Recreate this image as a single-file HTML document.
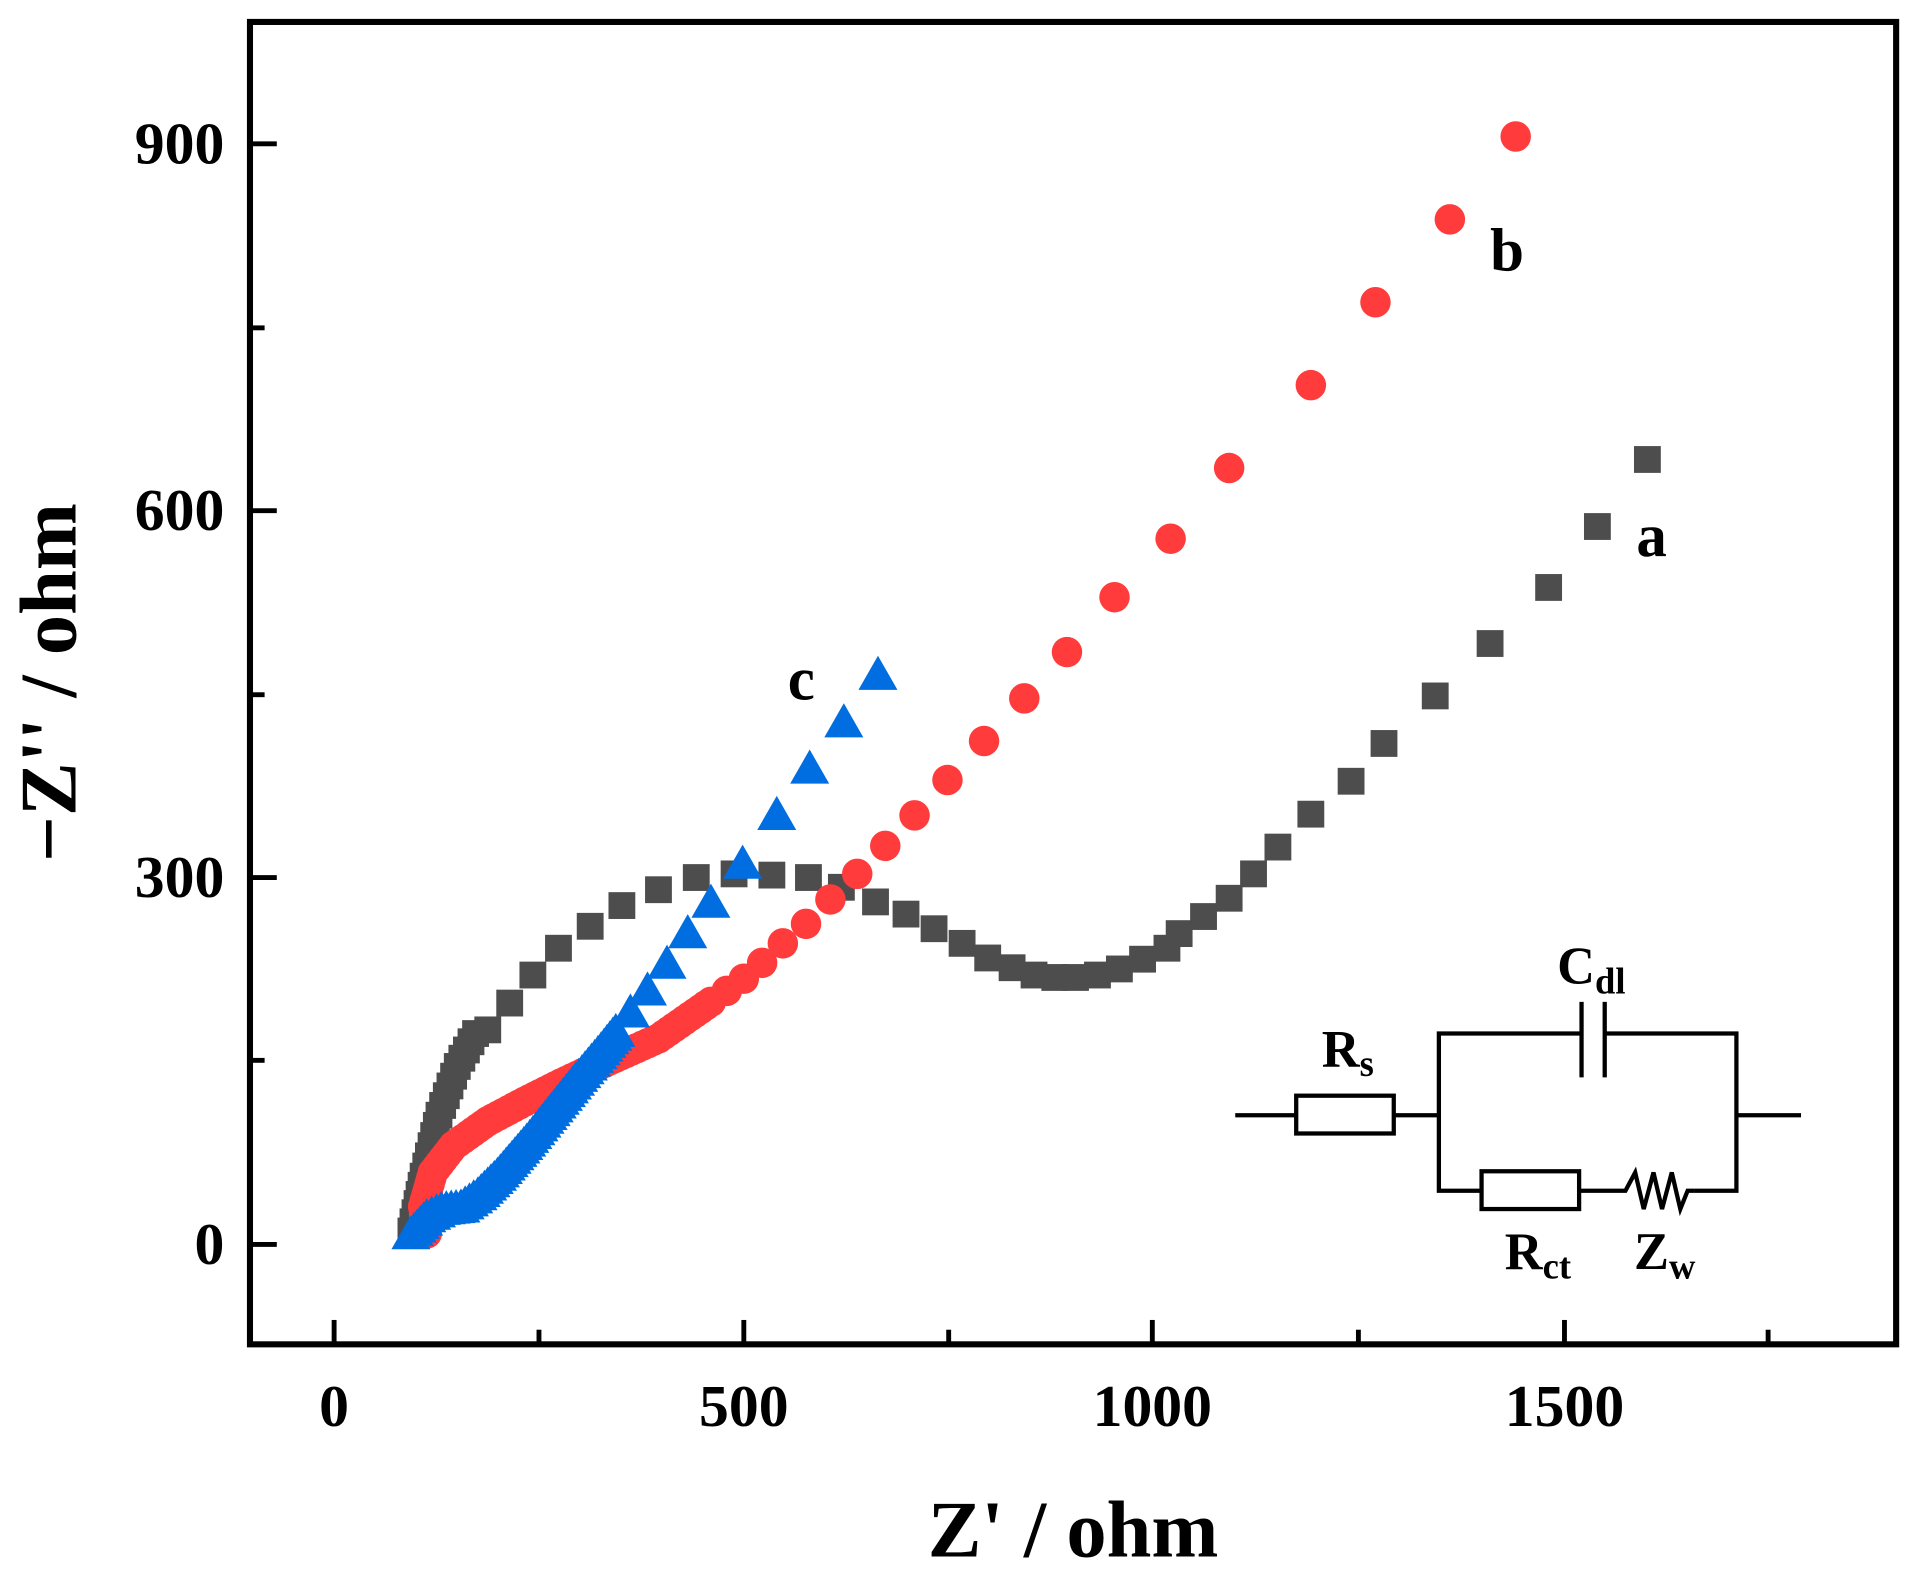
<!DOCTYPE html>
<html><head><meta charset="utf-8"><style>
html,body{margin:0;padding:0;background:#fff;}
svg{display:block;}
text{font-family:"Liberation Serif",serif;font-weight:bold;fill:#000;}
</style></head><body>
<svg id="s" width="1912" height="1582" viewBox="0 0 1568 1298" preserveAspectRatio="none" xmlns="http://www.w3.org/2000/svg">
<rect x="205" y="18" width="1350" height="1085" fill="none" stroke="#000" stroke-width="5"/>
<g stroke="#000" stroke-width="4">
<line x1="274" y1="1103" x2="274" y2="1083"/><line x1="610" y1="1103" x2="610" y2="1083"/><line x1="945" y1="1103" x2="945" y2="1083"/><line x1="1283" y1="1103" x2="1283" y2="1083"/>
<line x1="442" y1="1103" x2="442" y2="1091"/><line x1="778" y1="1103" x2="778" y2="1091"/><line x1="1114" y1="1103" x2="1114" y2="1091"/><line x1="1450" y1="1103" x2="1450" y2="1091"/>
<line x1="205" y1="1021" x2="227" y2="1021"/><line x1="205" y1="720" x2="227" y2="720"/><line x1="205" y1="419" x2="227" y2="419"/><line x1="205" y1="118" x2="227" y2="118"/>
<line x1="205" y1="870" x2="217" y2="870"/><line x1="205" y1="570" x2="217" y2="570"/><line x1="205" y1="269" x2="217" y2="269"/>
</g>
<g font-size="49" text-anchor="end">
<text x="184" y="1037">0</text><text x="184" y="736">300</text><text x="184" y="435">600</text><text x="184" y="134">900</text>
</g>
<g font-size="49" text-anchor="middle">
<text x="274" y="1170">0</text><text x="610" y="1170">500</text><text x="945" y="1170">1000</text><text x="1283" y="1170">1500</text>
</g>
<text x="880" y="1277" font-size="66" text-anchor="middle">Z' / ohm</text>
<text transform="translate(62,560) rotate(-90)" font-size="66" text-anchor="middle">−Z'' / ohm</text>
<g id="data"></g>
<g font-size="50"><text x="1222" y="222">b</text><text x="1342" y="456">a</text><text x="646" y="574">c</text></g>
<g stroke="#000" stroke-width="3.5" fill="none">
<line x1="1013" y1="915" x2="1063" y2="915"/>
<rect x="1063" y="899" width="80" height="31"/>
<line x1="1143" y1="915" x2="1180" y2="915"/>
<polyline points="1297,848 1180,848 1180,977 1215,977"/>
<polyline points="1316,848 1424,848 1424,977 1390,977"/>
<line x1="1297" y1="822" x2="1297" y2="884"/><line x1="1316" y1="822" x2="1316" y2="884"/>
<line x1="1424" y1="915" x2="1477" y2="915"/>
<rect x="1215" y="961" width="80" height="31"/>
<polyline points="1295,977 1333,977 1341,962 1348,992 1356,962 1363,992 1371,962 1378,992 1384,977 1390,977"/>
</g>
<g font-size="43">
<text x="1084" y="875">R<tspan font-size="30" dy="8">s</tspan></text>
<text x="1277" y="807">C<tspan font-size="30" dy="8">dl</tspan></text>
<text x="1234" y="1041">R<tspan font-size="30" dy="8">ct</tspan></text>
<text x="1340" y="1041">Z<tspan font-size="30" dy="8">w</tspan></text>
</g>
</svg>
<script>
var g=document.getElementById('data'),NS='http://www.w3.org/2000/svg';
function samp(pts,step){var out=[pts[0]];for(var i=1;i<pts.length;i++){var a=pts[i-1],b=pts[i],d=Math.hypot(b[0]-a[0],b[1]-a[1]),n=Math.max(1,Math.round(d/step));for(var k=1;k<=n;k++)out.push([a[0]+(b[0]-a[0])*k/n,a[1]+(b[1]-a[1])*k/n]);}return out;}
function el(t,a){var e=document.createElementNS(NS,t);for(var k in a)e.setAttribute(k,a[k]);g.appendChild(e);}
var aLow=samp([[337,1010],[347,965],[360,915],[375,875],[390,848]],8);
var aHi=[[400,845],[418,823],[437,800],[458,778],[484,760],[510,743],[540,730],[571,720],[602,717],[633,718],[663,720],[690,728],[718,740],[743,750],[766,762],[789,774],[810,786],[830,794],[848,800],[865,802],[882,802],[900,800],[918,795],[937,787],[957,778],[967,766],[987,752],[1008,737],[1028,717],[1048,695],[1075,668],[1108,641],[1135,610],[1177,571],[1222,528],[1270,482],[1310,432],[1351,377]];
aLow.concat(aHi).forEach(function(p){el('rect',{x:p[0]-11,y:p[1]-11,width:22,height:22,fill:'#4d4d4d'});});
var bLow=samp([[350,1012],[347,990],[355,962],[372,940],[400,920],[430,904],[460,889],[500,870],[540,852],[583,822]],5);
var bHi=[[596,813],[610,803],[625,790],[642,774],[661,758],[681,738],[703,717],[726,694],[750,669],[777,640],[807,608],[840,573],[875,535],[914,490],[960,442],[1008,384],[1075,316],[1128,248],[1189,180],[1243,112]];
bLow.concat(bHi).forEach(function(p){el('circle',{cx:p[0],cy:p[1],r:12.5,fill:'#ff3b3b'});});
var cLow=samp([[337,1012],[350,998],[362,992],[378,990],[392,980],[408,964],[420,950],[432,936],[452,911],[472,886],[493,861],[505,846]],4);
var cHi=[[517,830],[531,812],[547,790],[564,765],[583,740],[609,708],[637,668],[664,630],[692,592],[720,553]];
cLow.concat(cHi).forEach(function(p){var x=p[0],y=p[1];el('polygon',{points:(x-16)+','+(y+13)+' '+(x+16)+','+(y+13)+' '+x+','+(y-15),fill:'#006ee0'});});
</script>
</body></html>
